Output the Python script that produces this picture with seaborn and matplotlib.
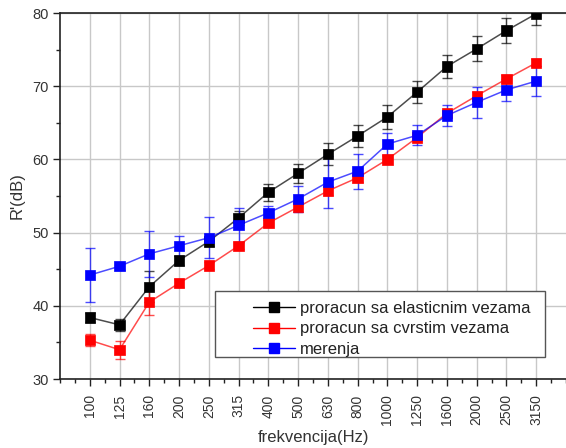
import matplotlib
matplotlib.use("Agg")
import matplotlib.pyplot as plt
import seaborn as sns
import pandas as pd
import numpy as np
from matplotlib.ticker import MultipleLocator
from matplotlib.lines import Line2D
from matplotlib.patches import Rectangle

freqs = ["100", "125", "160", "200", "250", "315", "400", "500", "630", "800",
         "1000", "1250", "1600", "2000", "2500", "3150"]

elastic = [38.4, 37.4, 42.6, 46.2, 48.8, 52.0, 55.5, 58.1, 60.7, 63.2,
           65.8, 69.2, 72.7, 75.1, 77.6, 79.9]
elastic_err = [0.6, 0.8, 2.1, 0.6, 0.6, 0.9, 1.2, 1.3, 1.5, 1.5,
               1.6, 1.55, 1.6, 1.7, 1.7, 1.55]

rigid = [35.3, 34.0, 40.5, 43.1, 45.5, 48.2, 51.3, 53.5, 55.7, 57.5,
         60.0, 63.0, 66.3, 68.7, 71.0, 73.2]
rigid_err = [0.8, 1.2, 1.7, 0.5, 0.5, 0.5, 0.5, 0.7, 0.6, 0.6,
             0.5, 0.5, 0.5, 0.5, 0.5, 0.5]

measured = [44.2, 45.4, 47.1, 48.2, 49.3, 51.0, 52.7, 54.6, 56.9, 58.4,
            62.1, 63.3, 66.0, 67.8, 69.5, 70.7]
measured_err = [3.7, 0.5, 3.1, 1.4, 2.8, 2.3, 1.0, 1.8, 3.6, 2.4,
                1.5, 1.4, 1.5, 2.1, 1.5, 2.1]

labels = ["proracun sa elasticnim vezama", "proracun sa cvrstim vezama", "merenja"]
colors = ["#000000", "#ff0000", "#0000ff"]

sns.set_style("white")
plt.rcParams['font.family'] = ['Liberation Sans', 'DejaVu Sans']

fig = plt.figure(figsize=(5.66, 4.48), dpi=100)
ax = fig.add_axes([60/566, 1 - 379/448, 506/566, 366/448])

pos = np.arange(len(freqs))
df = pd.concat([
    pd.DataFrame({"pos": pos, "freq": freqs, "R": vals, "series": lab})
    for vals, lab in zip([elastic, rigid, measured], labels)
], ignore_index=True)
pal = dict(zip(labels, colors))

for (vals, errs, col) in zip([elastic, rigid, measured],
                             [elastic_err, rigid_err, measured_err], colors):
    ax.errorbar(pos, vals, yerr=errs, fmt='none', ecolor=col, elinewidth=1.0,
                capsize=3.5, capthick=1.0, alpha=0.7, zorder=2)

sns.lineplot(data=df, x="pos", y="R", hue="series", palette=pal,
             linewidth=1.1, alpha=0.7, ax=ax, zorder=3, legend=False)
sns.scatterplot(data=df, x="pos", y="R", hue="series", palette=pal,
                marker="s", s=55, linewidth=0.5, edgecolor=None, ax=ax,
                zorder=4, legend=False)

ax.set_xlim(-1, 16)
ax.set_ylim(30, 80)
ax.set_xticks(pos)
ax.set_xticklabels(freqs, rotation=90)
ax.xaxis.set_minor_locator(MultipleLocator(0.5))
ax.yaxis.set_major_locator(MultipleLocator(10))
ax.yaxis.set_minor_locator(MultipleLocator(5))
ax.tick_params(axis='both', which='major', direction='out', length=5, width=1,
               labelsize=10.5, colors='#222222', labelcolor='#333333', pad=3,
               bottom=True, left=True)
ax.tick_params(axis='x', which='major', labelsize=10, pad=6)
ax.tick_params(axis='both', which='minor', direction='out', length=3, width=1,
               bottom=True, left=True, colors='#222222')

ax.grid(True, which='major', color='#c8c8c8', linewidth=1.0)
ax.set_axisbelow(True)
for s in ['left', 'bottom', 'top']:
    ax.spines[s].set_color('#222222')
    ax.spines[s].set_linewidth(1.2)
ax.spines['right'].set_visible(False)

ax.set_xlabel("frekvencija(Hz)", fontsize=12, color='#333333', labelpad=3)
ax.set_ylabel("R'(dB)", fontsize=12, color='#333333', labelpad=6)

# legend frame (wide left padding as in the reference)
frame = Rectangle((155/506, 22/366), 330/506, 66/366, transform=ax.transAxes,
                  facecolor='white', edgecolor='#555555', linewidth=1.0, zorder=5)
ax.add_patch(frame)
handles = [Line2D([0], [0], color=c, marker='s', markersize=6.5, linewidth=1.0,
                  markeredgecolor=c) for c in colors]
leg = ax.legend(handles, labels, loc='upper left',
                bbox_to_anchor=(193/506, 78/366),
                frameon=False, fontsize=12, handlelength=2.5, handletextpad=0.3,
                labelspacing=0.32, borderpad=0.0, borderaxespad=0.0)
leg.set_zorder(6)
for t in leg.get_texts():
    t.set_color('#222222')

fig.savefig("out.png", dpi=100)
